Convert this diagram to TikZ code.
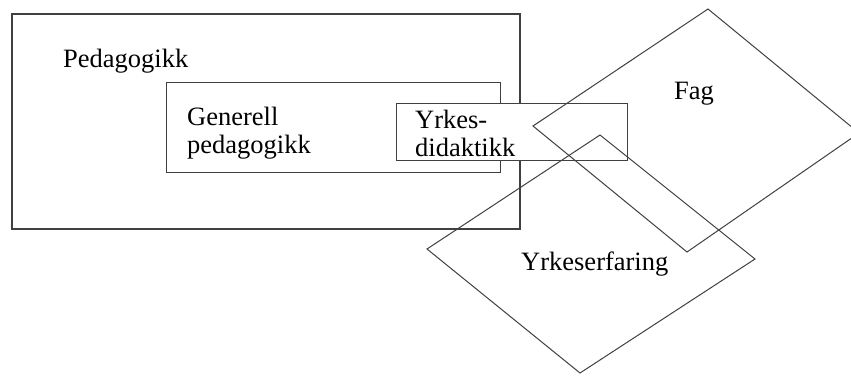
\documentclass[tikz,border=0pt]{standalone}
\usepackage{fontspec}
\setmainfont{Liberation Serif}
\begin{document}
\begin{tikzpicture}[x=1pt,y=-1pt,
  frame/.style={draw=black!75,line width=1.1pt},
  area/.style={draw=black!75,line width=1pt},
  lbl/.style={anchor=base west,inner sep=0pt,font=\fontsize{26.5}{28}\selectfont},
]
\useasboundingbox (0,0) rectangle (851,376);
% Pedagogikk
\draw[frame] (12,14) rectangle (520,229);
\node[lbl] (ped) at (63,67) {Pedagogikk};
% Generell pedagogikk
\draw[area] (166,82) rectangle (500,172);
\node[lbl] (gen) at (187,125) {\begin{tabular}[t]{@{}l@{}}Generell\\pedagogikk\end{tabular}};
% Yrkesdidaktikk
\draw[area,fill=white] (396,103) rectangle (627,160);
\node[lbl] (yd) at (415,128) {\begin{tabular}[t]{@{}l@{}}Yrkes-\\didaktikk\end{tabular}};
% Fag
\draw[area] (708,9) -- (859,133) -- (687,252) -- (533,126) -- cycle;
\node[lbl] (fag) at (674,99) {Fag};
% Yrkeserfaring
\draw[area] (600,135) -- (755,259) -- (580,373) -- (427,249) -- cycle;
\node[lbl] (ye) at (521,270) {Yrkeserfaring};
\end{tikzpicture}
\end{document}
